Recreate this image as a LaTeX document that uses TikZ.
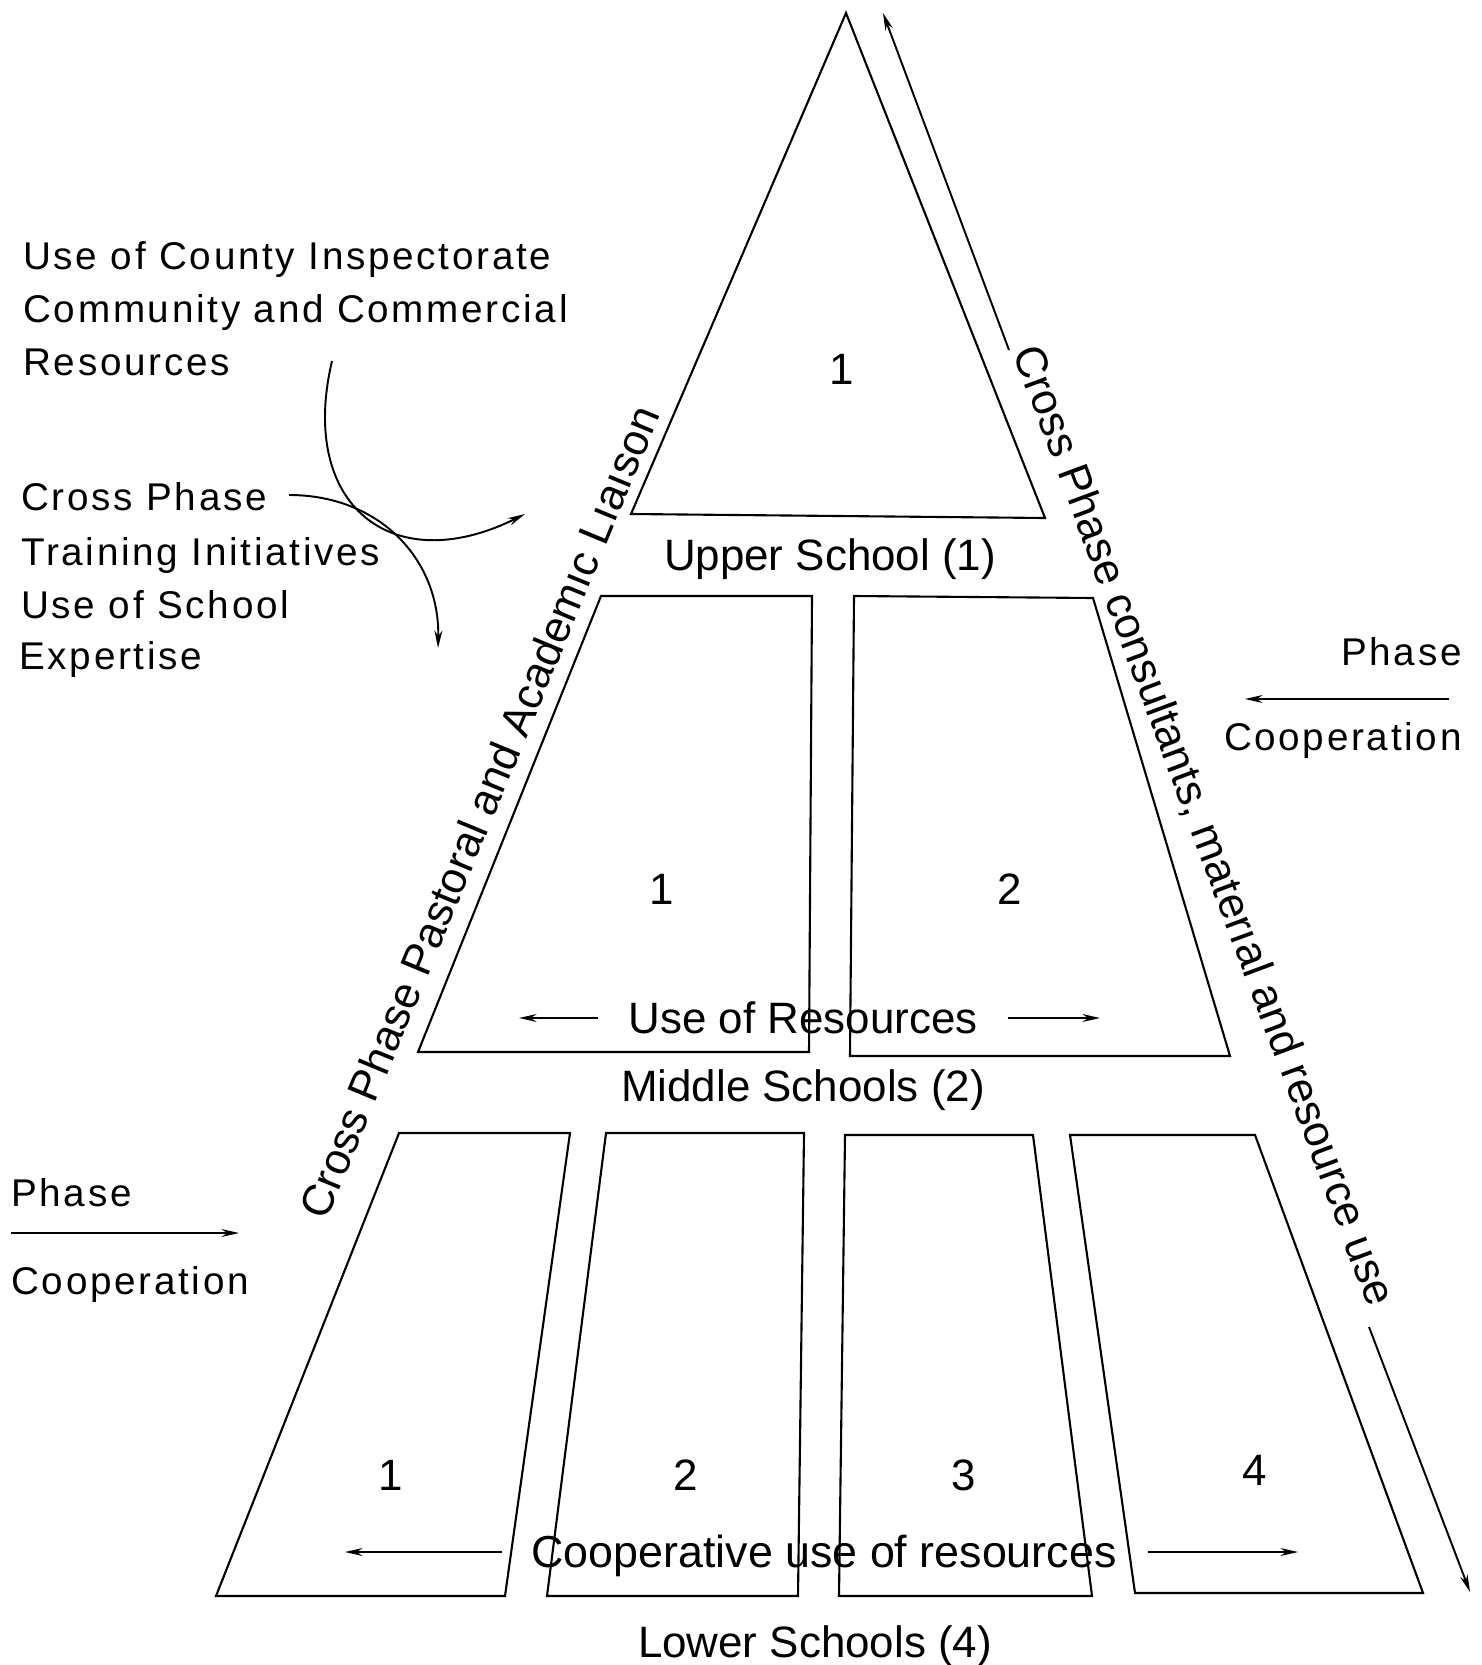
\documentclass[tikz,border=0pt]{standalone}
\usepackage{fontspec}
\setmainfont{Liberation Sans}
\newfontfamily\widefont[LetterSpace=7]{Liberation Sans}
\usetikzlibrary{arrows.meta}
\begin{document}
\begin{tikzpicture}[x=0.02cm,y=-0.02cm,
  edge/.style={line width=1.2pt, line join=miter},
  flow/.style={line width=1.1pt, -{Stealth[length=10pt,width=4.5pt]}},
  lbl/.style={font=\fontsize{25}{30}\selectfont, inner sep=0pt, anchor=base},
  note/.style={font=\widefont\fontsize{22}{26}\selectfont, inner sep=0pt, anchor=base west},
  slant/.style={font=\fontsize{25}{30}\selectfont, inner sep=0pt, anchor=center},
]
\useasboundingbox (0,0) rectangle (1481,1665);

% ---- upper school (triangle) ----
\coordinate (apex) at (846,13);
\coordinate (ubl) at (631,514);
\coordinate (ubr) at (1045,518);
\draw[edge] (apex) -- (ubr) -- (ubl) -- cycle;
\node[lbl] (u1) at (842,384) {1};
\node[lbl] (upper) at (830,570) {Upper School (1)};

% ---- middle schools ----
\draw[edge] (601,596) coordinate (m1a) -- (812,596) coordinate (m1b)
  -- (809,1052) coordinate (m1c) -- (418,1052) coordinate (m1d) -- cycle;
\draw[edge] (854,596) coordinate (m2a) -- (1093,598) coordinate (m2b)
  -- (1230,1056) coordinate (m2c) -- (850,1056) coordinate (m2d) -- cycle;
\node[lbl] (mn1) at (662,904) {1};
\node[lbl] (mn2) at (1010,904) {2};
\node[lbl] (mres) at (803,1033) {Use of Resources};
\coordinate (mlA) at (598,1018); \coordinate (mlB) at (519,1018);
\coordinate (mrA) at (1008,1018); \coordinate (mrB) at (1100,1018);
\draw[flow] (mlA) -- (mlB);
\draw[flow] (mrA) -- (mrB);
\node[lbl] (middle) at (803,1101) {Middle Schools (2)};

% ---- lower schools ----
\draw[edge] (399,1133) coordinate (l1a) -- (570,1133) coordinate (l1b)
  -- (505,1596) coordinate (l1c) -- (216,1596) coordinate (l1d) -- cycle;
\draw[edge] (606,1133) coordinate (l2a) -- (804,1133) coordinate (l2b)
  -- (798,1596) coordinate (l2c) -- (547,1596) coordinate (l2d) -- cycle;
\draw[edge] (845,1135) coordinate (l3a) -- (1033,1135) coordinate (l3b)
  -- (1092,1596) coordinate (l3c) -- (839,1596) coordinate (l3d) -- cycle;
\draw[edge] (1070,1135) coordinate (l4a) -- (1255,1135) coordinate (l4b)
  -- (1423,1593) coordinate (l4c) -- (1135,1593) coordinate (l4d) -- cycle;
\node[lbl] (ln1) at (391,1490) {1};
\node[lbl] (ln2) at (686,1490) {2};
\node[lbl] (ln3) at (964,1490) {3};
\node[lbl] (ln4) at (1255,1485) {4};
\node[lbl, font=\fontsize{25.5}{30}\selectfont] (lres) at (824,1567) {Cooperative use of resources};
\coordinate (llA) at (502,1552); \coordinate (llB) at (345,1552);
\coordinate (lrA) at (1148,1552); \coordinate (lrB) at (1298,1552);
\draw[flow] (llA) -- (llB);
\draw[flow] (lrA) -- (lrB);
\node[lbl] (lower) at (815,1657) {Lower Schools (4)};

% ---- liaison along the left flank ----
\node[slant, rotate=67.5] (liaison) at (479,812)
  {Cross Phase Pastoral and Academ\i c L\i a\i son};

% ---- consultants along the right flank (two-headed, broken by text) ----
\coordinate (rtop) at (883,13);
\coordinate (rt1) at (1009,350);
\coordinate (rb1) at (1369,1327);
\coordinate (rbot) at (1470,1592);
\draw[flow] (rt1) -- (rtop);
\draw[flow] (rb1) -- (rbot);
\node[slant, rotate=-69.6] (consult) at (1203,826)
  {Cross Phase consultants, mater\i al and resource use};

% ---- outside resources (top left) ----
\node[note] (n1) at (23,270) {Use of County Inspectorate};
\node[note] (n2) at (23,323) {Community and Commercial};
\node[note] (n3) at (23,376) {Resources};
\node[note] (n4) at (21,510) {Cross Phase};
\node[note] (n5) at (21,565) {Training Initiatives};
\node[note] (n6) at (21,618) {Use of School};
\node[note] (n7) at (19,669) {Expertise};
\coordinate (c1s) at (332,361);
\coordinate (c1e) at (525,514);
\draw[flow] (c1s) .. controls (298,505) and (392,580) .. (c1e);
\coordinate (c2s) at (289,495);
\coordinate (c2e) at (438,648);
\draw[flow] (c2s) .. controls (380,495) and (440,560) .. (c2e);

% ---- phase cooperation (right) ----
\node[note, anchor=base east] (pr1) at (1462,665) {Phase};
\coordinate (prA) at (1449,699); \coordinate (prB) at (1245,699);
\draw[flow] (prA) -- (prB);
\node[note, anchor=base east] (pr2) at (1462,750) {Cooperation};

% ---- phase cooperation (left) ----
\node[note] (pl1) at (11,1206) {Phase};
\coordinate (plA) at (11,1233); \coordinate (plB) at (239,1233);
\draw[flow] (plA) -- (plB);
\node[note] (pl2) at (11,1294) {Cooperation};
\end{tikzpicture}
\end{document}
